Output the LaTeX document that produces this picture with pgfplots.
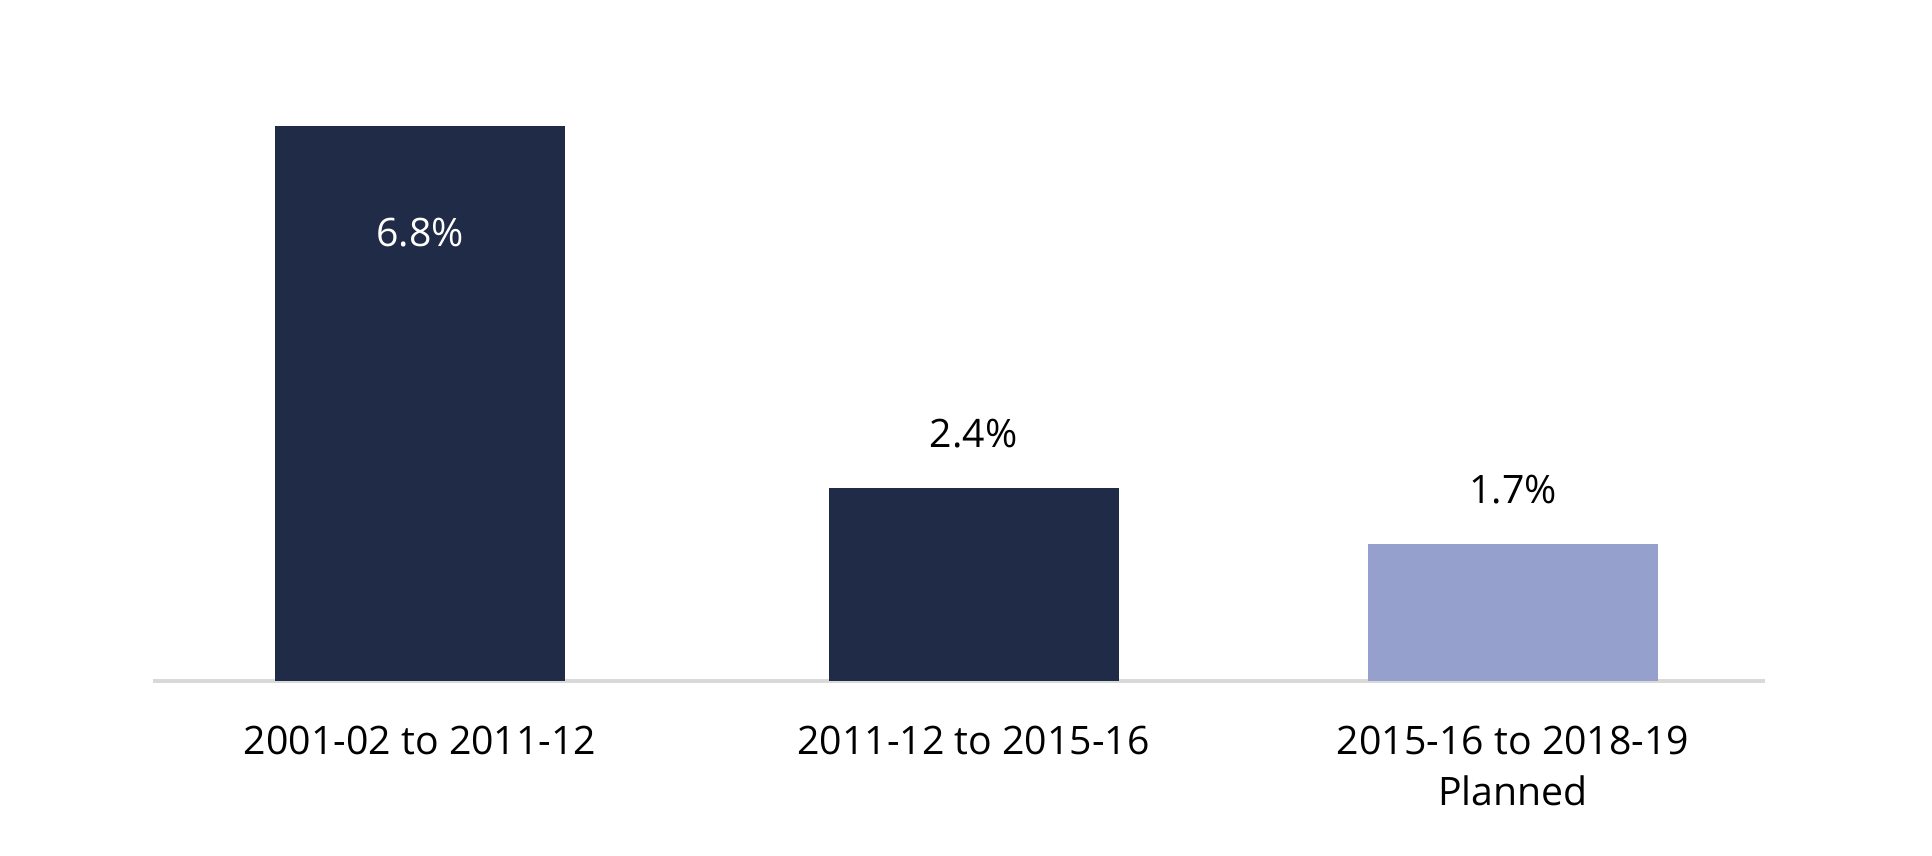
\documentclass[border=0pt]{standalone}
\usepackage{pgfplots}
\pgfplotsset{compat=1.18}
\usepackage{fontspec}
\setmainfont{Open Sans}
\definecolor{navy}{RGB}{31,43,71}
\definecolor{lav}{RGB}{149,160,204}
\definecolor{axgray}{RGB}{217,217,217}
\begin{document}
\begin{tikzpicture}
\path[use as bounding box] (0,0) rectangle (966pt,428pt);
\begin{axis}[
  at={(76.5pt,87.5pt)}, anchor=south west,
  scale only axis, width=806pt, height=306pt,
  xmin=-0.4886, xmax=2.4611, ymin=0, ymax=7.5,
  axis x line=bottom, axis line style={draw=axgray, line width=2pt, -},
  hide y axis,
  xtick={0,1.0128,2}, major tick length=0pt,
  xticklabels={2001-02 to 2011-12, 2011-12 to 2015-16, {2015-16 to 2018-19\\Planned}},
  xticklabel style={align=center, anchor=north, yshift=-19pt, font=\fontsize{19.6}{25.5}\selectfont},
  ybar, bar width=0.5307, bar shift=0pt,
  nodes near coords={\pgfmathprintnumber[fixed,fixed zerofill,precision=1,assume math mode=true]{\pgfplotspointmeta}\%},
  every node near coord/.append style={anchor=center, font=\fontsize{19.6}{24}\selectfont},
]
\addplot[fill=navy, draw=none, every node near coord/.append style={yshift=-53pt, text=white}] coordinates {(0,6.8)};
\addplot[fill=navy, draw=none, every node near coord/.append style={yshift=27.4pt, text=black}] coordinates {(1.0128,2.36)};
\addplot[fill=lav, draw=none, every node near coord/.append style={yshift=27.4pt, text=black}] coordinates {(2,1.68)};
\end{axis}
\end{tikzpicture}
\end{document}
